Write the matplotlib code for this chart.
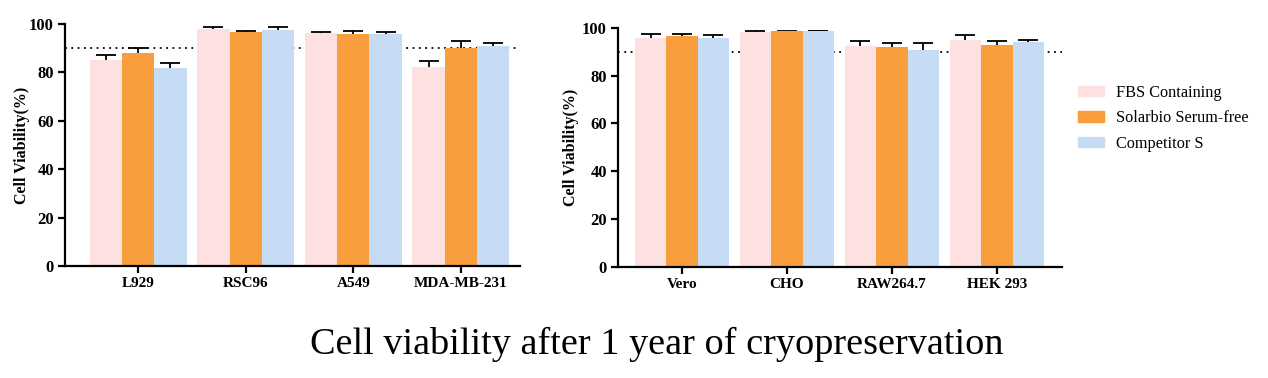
import numpy as np
import matplotlib.pyplot as plt
from matplotlib.patches import Patch

plt.rcParams['font.family'] = ['Liberation Serif', 'DejaVu Serif']

# data
series = ['FBS Containing', 'Solarbio Serum-free', 'Competitor S']
colors = ['#FCE1E0', '#F89E3D', '#C6DCF4']

cells_left = ['L929', 'RSC96', 'A549', 'MDA-MB-231']
mean_left = [[85.2, 98.1, 96.3, 82.2],
             [88.0, 96.7, 96.1, 90.2],
             [81.9, 97.7, 95.7, 90.9]]
err_left = [[2.1, 0.7, 0.4, 2.4],
            [2.3, 0.4, 1.1, 2.8],
            [2.0, 1.1, 1.0, 1.2]]

cells_right = ['Vero', 'CHO', 'RAW264.7', 'HEK 293']
mean_right = [[95.8, 98.3, 92.5, 94.8],
              [96.7, 98.6, 91.8, 92.6],
              [95.8, 98.6, 90.6, 94.1]]
err_right = [[1.4, 0.4, 2.1, 2.3],
             [0.8, 0.2, 1.8, 1.7],
             [1.0, 0.1, 3.0, 0.9]]

threshold = 90

fig = plt.figure(figsize=(12.68, 3.78), dpi=100)
ax1 = fig.add_axes([0.0513, 0.2963, 0.3588, 0.640])
ax2 = fig.add_axes([0.4874, 0.2945, 0.350, 0.632])


def draw(ax, cells, means, errs, xlim, pad):
    x = np.arange(len(cells))
    w = 0.30
    for i in range(3):
        ax.bar(x + (i - 1) * w, means[i], w, color=colors[i], zorder=2)
        # symmetric bars drawn under the columns, so only the upper half shows
        ax.errorbar(x + (i - 1) * w, means[i], yerr=errs[i],
                    fmt='none', ecolor='black', elinewidth=1.3, capsize=7,
                    capthick=1.3, zorder=1.5, clip_on=False)
    ax.axhline(threshold, color='black', linestyle=(0, (1, 2.5)), lw=1.3, zorder=1)
    ax.set_xlim(*xlim)
    ax.set_ylim(0, 100)
    ax.set_yticks([0, 20, 40, 60, 80, 100])
    ax.set_xticks(x)
    ax.set_xticklabels(cells, fontsize=11, fontweight='bold')
    for lab in ax.get_yticklabels():
        lab.set_fontsize(12)
        lab.set_fontweight('bold')
    ax.set_ylabel('Cell Viability(%)', fontsize=11.5, fontweight='bold', labelpad=pad)
    for s in ['top', 'right']:
        ax.spines[s].set_visible(False)
    for s in ['left', 'bottom']:
        ax.spines[s].set_linewidth(1.6)
    ax.tick_params(width=1.6, length=5, pad=3)


draw(ax1, cells_left, mean_left, err_left, (-0.68, 3.55), -1)
draw(ax2, cells_right, mean_right, err_right, (-0.61, 3.62), 2)

handles = [Patch(color=c, label=s) for c, s in zip(colors, series)]
fig.legend(handles=handles, loc='upper left', bbox_to_anchor=(0.839, 0.815),
           frameon=False, fontsize=11.7, handlelength=1.6, handleheight=0.6,
           handletextpad=0.7, labelspacing=0.6)

fig.text(0.518, 0.09, 'Cell viability after 1 year of cryopreservation',
         ha='center', va='center', fontsize=27.5)

fig.savefig('out.png', dpi=100)
